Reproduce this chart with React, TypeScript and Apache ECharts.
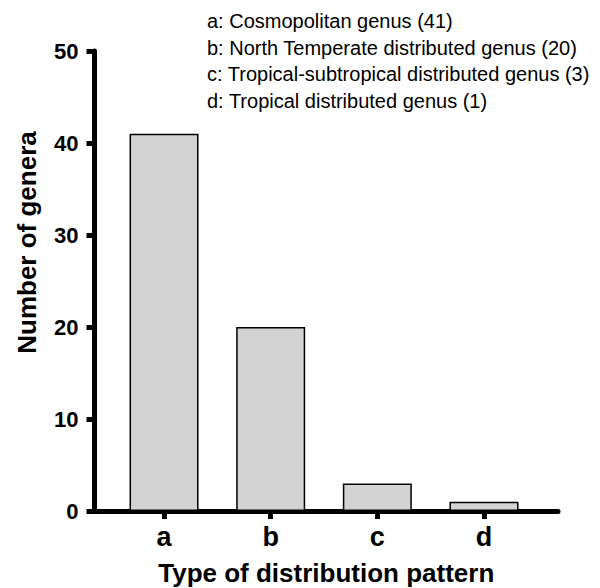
import React, { useEffect, useRef } from "react";
import * as echarts from "echarts";

const categories = ["a", "b", "c", "d"];
const counts = [41, 20, 3, 1];
const yTicks = [0, 10, 20, 30, 40, 50];
const notes = [
  "a: Cosmopolitan genus (41)",
  "b: North Temperate distributed genus (20)",
  "c: Tropical-subtropical distributed genus (3)",
  "d: Tropical distributed genus (1)",
];
const xTitle = "Type of distribution pattern";
const yTitle = "Number of genera";

const FONT = "'Liberation Sans', Arial, sans-serif";

export default function App() {
  const ref = useRef<HTMLDivElement>(null);
  useEffect(() => {
    document.body.style.margin = "0";
    const chart = echarts.init(ref.current!, null, { renderer: "svg" });
    const idx = categories.map((_, i) => i);
    chart.setOption({
      animation: false,
      backgroundColor: "#ffffff",
      grid: {
        left: 94.5,
        right: 42,
        top: 51,
        bottom: 77,
        containLabel: false,
        outerBoundsMode: "none",
      },
      xAxis: {
        type: "value",
        min: -0.652,
        max: 3.694,
        splitLine: { show: false },
        axisLine: { show: true, onZero: false, lineStyle: { color: "#000", width: 5 } },
        axisTick: { show: true, customValues: idx, length: 8, lineStyle: { color: "#000", width: 5 } },
        axisLabel: {
          customValues: idx,
          formatter: (v: number) => categories[Math.round(v)] ?? "",
          color: "#000",
          fontFamily: FONT,
          fontWeight: "bold",
          fontSize: 27,
          margin: 12,
        },
        name: xTitle,
        nameLocation: "middle",
        nameGap: 49,
        nameTextStyle: { color: "#000", fontFamily: FONT, fontWeight: "bold", fontSize: 26 },
      },
      yAxis: {
        type: "value",
        min: yTicks[0],
        max: yTicks[yTicks.length - 1],
        interval: 10,
        splitLine: { show: false },
        axisLine: { show: true, onZero: false, lineStyle: { color: "#000", width: 5 } },
        axisTick: { show: true, length: 8, lineStyle: { color: "#000", width: 5 } },
        axisLabel: {
          color: "#000",
          fontFamily: FONT,
          fontWeight: "bold",
          fontSize: 22,
          margin: 16,
        },
      },
      graphic: [
        {
          type: "text",
          x: 27,
          y: 242.5,
          rotation: Math.PI / 2,
          style: {
            text: yTitle,
            fill: "#000",
            font: `bold 26px ${FONT}`,
            align: "center",
            verticalAlign: "middle",
          },
        },
        ...notes.map((t, i) => ({
          type: "text",
          x: 207,
          y: 21 + i * 26.5,
          style: {
            text: t,
            fill: "#000",
            font: `20px ${FONT}`,
            align: "left",
            verticalAlign: "middle",
          },
        })),
      ],
      series: [
        {
          type: "bar",
          barWidth: 69,
          data: counts.map((v, i) => [i, v]),
          itemStyle: { color: "#d3d3d3", borderColor: "#000", borderWidth: 1.5 },
          z: 1,
        },
      ],
    });
    return () => chart.dispose();
  }, []);
  return <div ref={ref} style={{ width: 600, height: 588 }} />;
}
